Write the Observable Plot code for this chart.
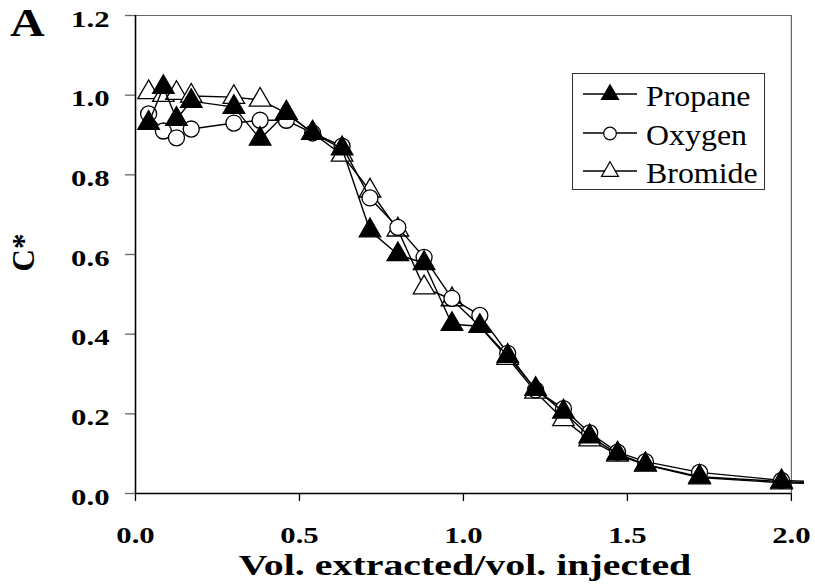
<!DOCTYPE html>
<html>
<head>
<meta charset="utf-8">
<script src="https://cdn.jsdelivr.net/npm/d3@7"></script>
<script src="https://cdn.jsdelivr.net/npm/@observablehq/plot@0.6"></script>
<style>
  body { margin: 0; background: #fff; }
  #wrap { position: relative; width: 815px; height: 586px; font-family: "Liberation Serif", "Times New Roman", serif; }
  #chart svg { display: block; }
  #panel { position: absolute; left: 10px; top: 3px; font-size: 40px; font-weight: bold; line-height: 1; transform: scaleX(1.2); transform-origin: left top; }
  #legend { position: absolute; left: 572px; top: 73px; width: 191px; height: 115px; border: 1px solid #333; background: #fff; font-family: "Liberation Serif", "Times New Roman", serif; }
  .row { position: absolute; left: 0; height: 30px; display: flex; align-items: center; }
  .row span { font-family: "Liberation Serif", "Times New Roman", serif; font-size: 29px; margin-left: 9px; line-height: 1; position: relative; top: 2px; display: inline-block; transform: scaleX(1.1); transform-origin: left center; white-space: nowrap; }
</style>
</head>
<body>
<div id="wrap">
  <div id="chart"></div>
  <div id="panel">A</div>
  <div id="legend"></div>
</div>
<script>
const series = ["Propane", "Oxygen", "Bromide"];
const vol = [0.04, 0.085, 0.125, 0.17, 0.30, 0.38, 0.46, 0.54, 0.63, 0.715, 0.80, 0.88, 0.965, 1.05, 1.135, 1.22, 1.305, 1.385, 1.47, 1.555, 1.72, 1.97, 2.12];
const propane = [0.93, 1.02, 0.94, 0.985, 0.97, 0.89, 0.955, 0.905, 0.866, 0.66, 0.60, 0.578, 0.425, 0.42, 0.345, 0.262, 0.205, 0.143, 0.10, 0.073, 0.042, 0.03, 0.024];
const oxygen = [0.953, 0.91, 0.893, 0.915, 0.93, 0.937, 0.937, 0.905, 0.872, 0.742, 0.668, 0.593, 0.49, 0.447, 0.352, 0.26, 0.213, 0.152, 0.104, 0.08, 0.053, 0.033, 0.028];
const bromide = [1.007, 1.0, 1.005, 0.998, 0.995, 0.988, 0.955, 0.905, 0.85, 0.76, 0.662, 0.517, 0.487, 0.42, 0.34, 0.255, 0.186, 0.135, 0.097, 0.072, 0.04, 0.027, 0.024];
const xTicks = [0, 0.5, 1.0, 1.5, 2.0];
const yTicks = [0, 0.2, 0.4, 0.6, 0.8, 1.0, 1.2];
const xLabel = "Vol. extracted/vol. injected";
const yLabel = "C*";

const styles = {
  Propane: {symbol: "triangle", fill: "black", r: 8},
  Oxygen: {symbol: "circle", fill: "white", r: 8},
  Bromide: {symbol: "triangle", fill: "white", r: 8}
};
const values = {Propane: propane, Oxygen: oxygen, Bromide: bromide};
const rows = s => vol.map((x, i) => ({x, y: values[s][i], s}));

const order = ["Bromide", "Oxygen", "Propane"];
const seriesMarks = order.flatMap(s => [
  Plot.line(rows(s), {x: "x", y: "y", stroke: "black", strokeWidth: 1.4, clip: true}),
  Plot.dot(rows(s).filter(d => d.x <= 2), {x: "x", y: "y", symbol: () => styles[s].symbol, r: styles[s].r,
    fill: styles[s].fill, stroke: "black", strokeWidth: 1.3, clip: true})
]);

const chart = Plot.plot({
  width: 815, height: 586,
  marginLeft: 135, marginRight: 11, marginTop: 15, marginBottom: 93,
  style: {fontFamily: "'Liberation Serif', 'Times New Roman', serif", background: "white"},
  x: {domain: [0, 2.04]},
  y: {domain: [0, 1.2]},
  symbol: {type: "identity"},
  marks: [
    Plot.ruleY([1.2], {x1: 0, x2: 2, stroke: "#666", strokeWidth: 1.2}),
    Plot.ruleX([2], {stroke: "#666", strokeWidth: 1.2}),
    ...seriesMarks,
    Plot.axisX({ticks: xTicks, tickFormat: d3.format(".1f"), tickSize: 8, tickPadding: 24, label: null,
      fontSize: 24, fontWeight: "bold", stroke: "black", strokeWidth: 1.3}),
    Plot.axisY({ticks: yTicks, tickFormat: d3.format(".1f"), tickSize: 10, tickPadding: 16, label: null,
      fontSize: 24, fontWeight: "bold", stroke: "#666", strokeWidth: 1.3}),
    Plot.ruleX([0], {stroke: "black", strokeWidth: 1.6}),
    Plot.ruleY([0], {x1: 0, x2: 2, stroke: "black", strokeWidth: 1.6}),
    Plot.text([xLabel], {frameAnchor: "bottom", dy: 72, dx: -5, text: d => d, fontSize: 30, fontWeight: "bold", fill: "black", lineAnchor: "middle", textAnchor: "middle"}),
    Plot.text([yLabel], {frameAnchor: "left", dx: -111, dy: -2, rotate: -90, text: d => d, fontSize: 31, fontWeight: "bold", fill: "black", lineAnchor: "middle", textAnchor: "middle"})
  ]
});
document.getElementById("chart").appendChild(chart);

// horizontally widen the tick labels and x title, as in the reference
function widen(sel, s, shiftY) {
  chart.querySelectorAll(sel).forEach(t => {
    let tr = t.getAttribute("transform");
    if (!tr) {
      const x = +(t.getAttribute("x") || 0), y = +(t.getAttribute("y") || 0);
      t.removeAttribute("x"); t.removeAttribute("y");
      tr = `translate(${x},${y})`;
    }
    t.setAttribute("transform", `translate(0,${shiftY}) ` + tr + ` scale(${s},1)`);
  });
}
widen('g[aria-label="x-axis tick label"] text', 1.28, 0);
widen('g[aria-label="y-axis tick label"] text', 1.28, 3.5);
chart.querySelectorAll('g[aria-label="text"] text').forEach(t => {
  if (t.textContent === xLabel) {
    t.setAttribute("transform", t.getAttribute("transform") + " scale(1.33,1)");
  }
});

// legend
const legend = document.getElementById("legend");
const ys = [20, 59, 97];
series.forEach((s, i) => {
  const row = document.createElement("div");
  row.className = "row";
  row.style.top = (ys[i] - 15) + "px";
  row.style.left = "10px";
  const svg = d3.create("svg").attr("width", 54).attr("height", 30);
  svg.append("line").attr("x1", 0).attr("x2", 54).attr("y1", 15).attr("y2", 15).attr("stroke", "black").attr("stroke-width", 1.4);
  const sym = styles[s].symbol === "circle" ? d3.symbolCircle : d3.symbolTriangle;
  svg.append("path").attr("d", d3.symbol(sym, Math.PI * 6.3 * 6.3)()).attr("transform", "translate(27,15.5)")
    .attr("fill", styles[s].fill).attr("stroke", "black").attr("stroke-width", 1.2);
  row.appendChild(svg.node());
  const t = document.createElement("span");
  t.textContent = s;
  row.appendChild(t);
  legend.appendChild(row);
});
</script>
</body>
</html>
